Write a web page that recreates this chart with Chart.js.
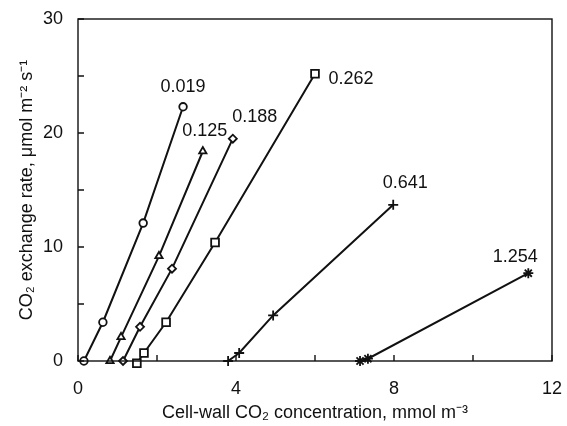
<!DOCTYPE html>
<html>
<head>
<meta charset="utf-8">
<script src="https://cdn.jsdelivr.net/npm/chart.js@4/dist/chart.umd.min.js"></script>
<style>
  html, body { margin: 0; padding: 0; background: #fff; }
  #wrap { width: 567px; height: 426px; }
</style>
</head>
<body>
<div id="wrap"><canvas id="c" width="567" height="426"></canvas></div>
<script>
// series labels (cell-wall resistance values)
const seriesNames = ["0.019", "0.125", "0.188", "0.262", "0.641", "1.254"];

// cell-wall CO2 concentration (mmol m-3)
const x019 = [0.15, 0.63, 1.65, 2.66];
const x125 = [0.81, 1.09, 2.05, 3.16];
const x188 = [1.14, 1.57, 2.38, 3.92];
const x262 = [1.49, 1.67, 2.23, 3.47, 6.0];
const x641 = [3.8, 4.08, 4.94, 7.98];
const x1254 = [7.14, 7.34, 11.4];

// CO2 exchange rate (umol m-2 s-1)
const y019 = [0, 3.4, 12.1, 22.3];
const y125 = [0, 2.1, 9.2, 18.4];
const y188 = [0, 3.0, 8.1, 19.5];
const y262 = [-0.2, 0.7, 3.4, 10.4, 25.2];
const y641 = [0, 0.7, 4.0, 13.7];
const y1254 = [0, 0.2, 7.7];

const xTicks = [0, 4, 8, 12];
const yTicks = [0, 10, 20, 30];

const xs = [x019, x125, x188, x262, x641, x1254];
const ys = [y019, y125, y188, y262, y641, y1254];
const markers = ["circle", "triangle", "rectRot", "rect", "cross", "star"];
const markerSizes = [3.8, 4.2, 4, 5.5, 5, 5];
// label offset from last point, px
const labelOffsets = [[0, -20], [2, -20], [22, -22], [36, 5], [12, -22], [-13, -16]];

const datasets = seriesNames.map((name, i) => ({
  label: name,
  data: xs[i].map((x, j) => ({ x: x, y: ys[i][j] })),
  borderColor: "#111",
  backgroundColor: "#fff",
  borderWidth: 2,
  pointStyle: markers[i],
  pointRadius: markerSizes[i],
  pointBorderWidth: 1.8,
  pointBorderColor: "#111",
  pointBackgroundColor: "#fff",
  showLine: true,
  tension: 0,
  clip: false
}));

const FONT = "'Liberation Sans', Arial, sans-serif";

const frame = {
  id: "frame",
  afterDatasetsDraw(chart) {
    const { ctx, chartArea: a, scales } = chart;
    ctx.save();
    ctx.strokeStyle = "#111";
    ctx.lineWidth = 1.4;
    ctx.strokeRect(a.left, a.top, a.right - a.left, a.bottom - a.top);
    ctx.beginPath();
    for (let v = 0; v <= 12; v += 2) {
      const px = scales.x.getPixelForValue(v);
      ctx.moveTo(px, a.bottom);
      ctx.lineTo(px, a.bottom - 6);
    }
    for (let v = 0; v <= 30; v += 5) {
      const py = scales.y.getPixelForValue(v);
      ctx.moveTo(a.left, py);
      ctx.lineTo(a.left + 6, py);
    }
    ctx.stroke();
    // series labels
    ctx.fillStyle = "#111";
    ctx.font = "18px " + FONT;
    ctx.textAlign = "center";
    ctx.textBaseline = "middle";
    chart.data.datasets.forEach((ds, i) => {
      const last = ds.data[ds.data.length - 1];
      const px = scales.x.getPixelForValue(last.x);
      const py = scales.y.getPixelForValue(last.y);
      ctx.fillText(ds.label, px + labelOffsets[i][0], py + labelOffsets[i][1]);
    });
    ctx.restore();
  }
};

new Chart(document.getElementById("c"), {
  type: "scatter",
  data: { datasets: datasets },
  options: {
    responsive: false,
    animation: false,
    layout: { padding: { left: 0, right: 15, top: 19, bottom: 0 } },
    plugins: { legend: { display: false }, tooltip: { enabled: false } },
    scales: {
      x: {
        type: "linear",
        min: 0, max: 12,
        afterBuildTicks: (s) => { s.ticks = xTicks.map(v => ({ value: v })); },
        afterFit: (s) => { s.height = 65; s.paddingLeft = 0; s.paddingRight = 0; },
        grid: { display: false },
        border: { display: false },
        ticks: { color: "#111", font: { family: FONT, size: 18 }, padding: 9, maxRotation: 0 },
        title: {
          display: true,
          text: "Cell-wall CO\u2082 concentration, mmol m\u207B\u00B3",
          color: "#111",
          font: { family: FONT, size: 18 },
          padding: { top: 4, bottom: 2 }
        }
      },
      y: {
        type: "linear",
        min: 0, max: 30,
        afterBuildTicks: (s) => { s.ticks = yTicks.map(v => ({ value: v })); },
        afterFit: (s) => { s.width = 78; s.paddingTop = 0; s.paddingBottom = 0; },
        grid: { display: false },
        border: { display: false },
        ticks: { color: "#111", font: { family: FONT, size: 18 }, padding: 7 },
        title: {
          display: true,
          text: "CO\u2082 exchange rate, \u03BCmol m\u207B\u00B2 s\u207B\u00B9",
          color: "#111",
          font: { family: FONT, size: 18 },
          padding: { top: 16, bottom: 0 }
        }
      }
    }
  },
  plugins: [frame]
});
</script>
</body>
</html>
